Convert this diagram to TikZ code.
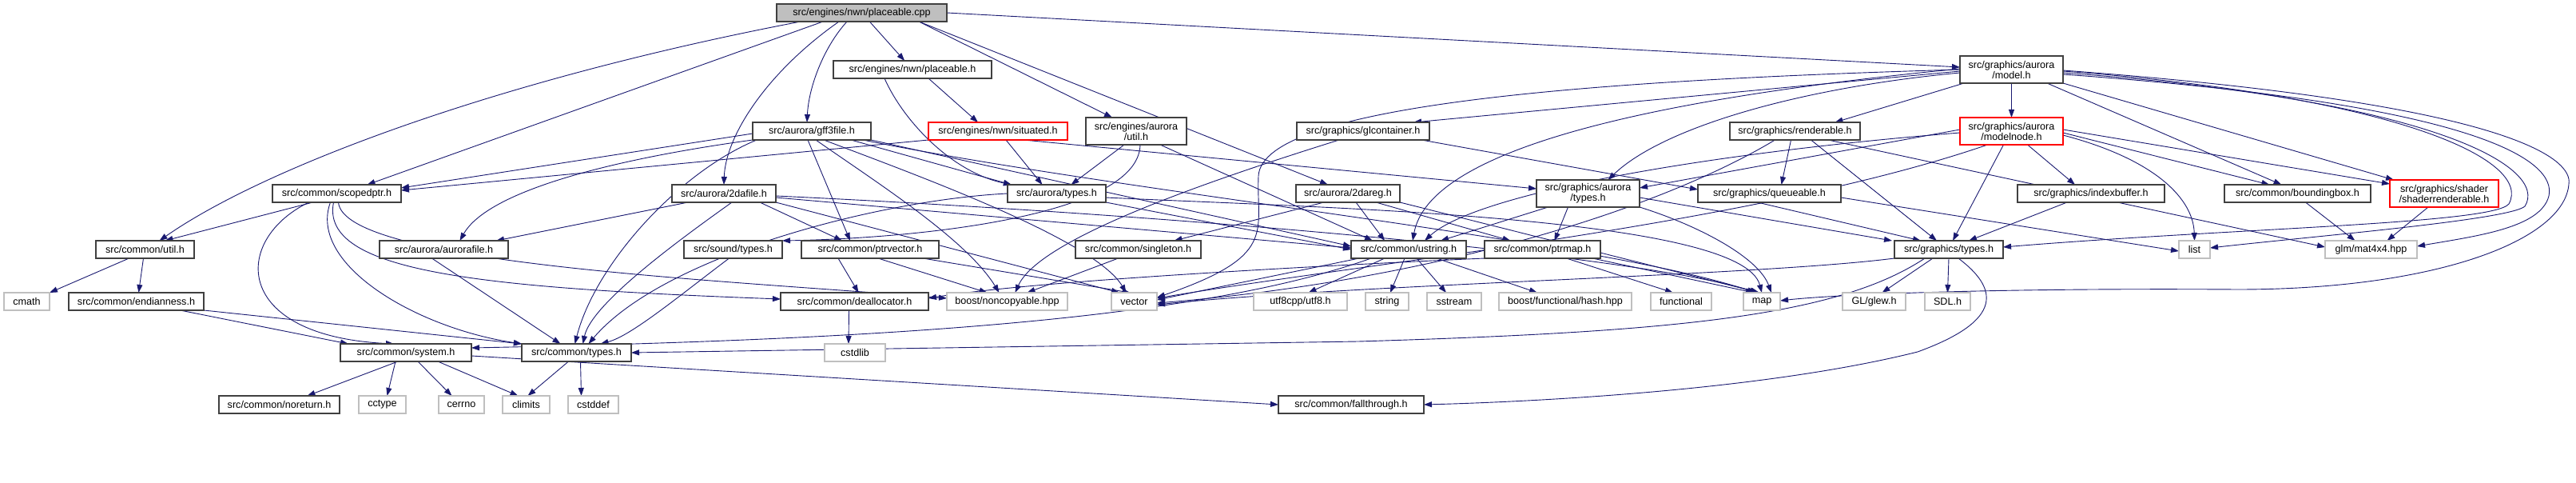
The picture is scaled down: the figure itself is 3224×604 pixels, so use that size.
\documentclass[tikz,border=0pt]{standalone}
\usepackage{fontspec}
\setmainfont{Liberation Sans}
\usetikzlibrary{arrows.meta}
\definecolor{edgec}{HTML}{191970}
\definecolor{graybd}{HTML}{BFBFBF}
\pgfdeclarelayer{bg}
\pgfsetlayers{bg,main}
\begin{document}
\begin{tikzpicture}[x=1pt,y=-1pt,
  every node/.style={font=\fontsize{12.6}{13}\selectfont, inner sep=0pt, outer sep=0pt, align=center},
  hbox/.style={draw=black!75, line width=1.4pt, fill=white, minimum height=22pt},
  sbox/.style={draw=graybd, line width=1.2pt, fill=white, minimum height=22pt},
  rbox/.style={draw=red, line width=1.2pt, fill=white, minimum height=22pt},
  tall/.style={minimum height=34pt},
  dep/.style={draw=edgec, line width=0.9pt, -{Triangle[length=10pt,width=7pt]}},
]
\useasboundingbox (0,0) rectangle (3224,604);
% row 0/1
\node[hbox, fill=black!25, minimum width=213pt] (PC) at (1078.5,16) {src/engines/nwn/placeable.cpp};
\node[hbox, minimum width=198pt] (PH) at (1142,87) {src/engines/nwn/placeable.h};
\node[hbox, tall, minimum width=129pt] (MOD) at (2517.5,87) {src/graphics/aurora\\/model.h};
% row 2
\node[hbox, minimum width=148pt] (GFF) at (1016,164) {src/aurora/gff3file.h};
\node[rbox, minimum width=174pt] (SIT) at (1249,164) {src/engines/nwn/situated.h};
\node[hbox, tall, minimum width=126pt] (EAU) at (1422,164) {src/engines/aurora\\/util.h};
\node[hbox, minimum width=166pt] (GLC) at (1706,164) {src/graphics/glcontainer.h};
\node[hbox, minimum width=163pt] (REN) at (2246.5,164) {src/graphics/renderable.h};
\node[rbox, tall, minimum width=129pt] (MN) at (2517.5,164) {src/graphics/aurora\\/modelnode.h};
% row 3
\node[hbox, minimum width=161pt] (SP) at (421.5,242) {src/common/scopedptr.h};
\node[hbox, minimum width=130pt] (TDA) at (906,242) {src/aurora/2dafile.h};
\node[hbox, minimum width=123pt] (AT) at (1322.5,242) {src/aurora/types.h};
\node[hbox, minimum width=130pt] (TDR) at (1687,242) {src/aurora/2dareg.h};
\node[hbox, tall, minimum width=129pt] (GAT) at (1987.5,242) {src/graphics/aurora\\/types.h};
\node[hbox, minimum width=179pt] (QUE) at (2214.5,242) {src/graphics/queueable.h};
\node[hbox, minimum width=184pt] (IB) at (2617,242) {src/graphics/indexbuffer.h};
\node[hbox, minimum width=183pt] (BB) at (2875.5,242) {src/common/boundingbox.h};
\node[rbox, tall, minimum width=136pt] (SR) at (3059,242) {src/graphics/shader\\/shaderrenderable.h};
% row 4
\node[hbox, minimum width=123pt] (CU) at (181.5,312) {src/common/util.h};
\node[hbox, minimum width=161pt] (AF) at (555.5,312) {src/aurora/aurorafile.h};
\node[hbox, minimum width=123pt] (ST) at (917.5,312) {src/sound/types.h};
\node[hbox, minimum width=172pt] (PV) at (1089,312) {src/common/ptrvector.h};
\node[hbox, minimum width=157pt] (SGL) at (1424.5,312) {src/common/singleton.h};
\node[hbox, minimum width=144pt] (US) at (1763,312) {src/common/ustring.h};
\node[hbox, minimum width=145pt] (PM) at (1930.5,312) {src/common/ptrmap.h};
\node[hbox, minimum width=136pt] (GT) at (2439,312) {src/graphics/types.h};
\node[sbox, minimum width=39pt] (LIST) at (2746.5,312) {list};
\node[sbox, minimum width=115pt] (GLM) at (2967.5,312) {glm/mat4x4.hpp};
% row 5
\node[sbox, minimum width=57pt] (CMATH) at (33.5,377) {cmath};
\node[hbox, minimum width=169pt] (END) at (170.5,377) {src/common/endianness.h};
\node[hbox, minimum width=185pt] (DEAL) at (1069.5,377) {src/common/deallocator.h};
\node[sbox, minimum width=151pt] (NC) at (1260.5,377) {boost/noncopyable.hpp};
\node[sbox, minimum width=57pt] (VEC) at (1419.5,377) {vector};
\node[sbox, minimum width=117pt] (UTF) at (1627.5,377) {utf8cpp/utf8.h};
\node[sbox, minimum width=54pt] (STR) at (1736,377) {string};
\node[sbox, minimum width=68pt] (SS) at (1820,377) {sstream};
\node[sbox, minimum width=166pt] (HASH) at (1959,377) {boost/functional/hash.hpp};
\node[sbox, minimum width=76pt] (FUNC) at (2104,377) {functional};
\node[sbox, minimum width=46pt] (MAP) at (2205,377) {map};
\node[sbox, minimum width=79pt] (GLEW) at (2345.5,377) {GL/glew.h};
\node[sbox, minimum width=57pt] (SDL) at (2437.5,377) {SDL.h};
% row 6
\node[hbox, minimum width=164pt] (SYS) at (508,441) {src/common/system.h};
\node[hbox, minimum width=137pt] (TY) at (721.5,441) {src/common/types.h};
\node[sbox, minimum width=76pt] (CSTDLIB) at (1070,441) {cstdlib};
% row 7
\node[hbox, minimum width=151pt] (NR) at (349.5,506) {src/common/noreturn.h};
\node[sbox, minimum width=59pt] (CCTYPE) at (478.5,506) {cctype};
\node[sbox, minimum width=57pt] (CERRNO) at (577.5,506) {cerrno};
\node[sbox, minimum width=59pt] (CLIMITS) at (658.5,506) {climits};
\node[sbox, minimum width=63pt] (CSTDDEF) at (742.5,506) {cstddef};
\node[hbox, minimum width=182pt] (FT) at (1691,506) {src/common/fallthrough.h};

\begin{pgfonlayer}{bg}
% placeable.cpp
\draw[dep] (PC) -- (PH);
\draw[dep] ([xshift=30pt]PC.south west) .. controls (620,100) and (330,210) .. ([xshift=18pt]CU.north);
\draw[dep] ([xshift=58pt]PC.south west) -- ([xshift=38pt]SP.north);
\draw[dep] ([xshift=78pt]PC.south west) .. controls (960,90) and (908,170) .. (TDA.north);
\draw[dep] ([xshift=88pt]PC.south west) .. controls (1030,60) and (1012,110) .. ([xshift=-6pt]GFF.north);
\draw[dep] ([xshift=-35pt]PC.south east) -- ([xshift=-30pt]EAU.north);
\draw[dep] ([xshift=-35pt]PC.south east) -- ([xshift=-25pt]TDR.north);
\draw[dep] (PC.east) -- ([yshift=3pt]MOD.west);
% placeable.h
\draw[dep] ([xshift=20pt]PH.south) -- ([xshift=-25pt]SIT.north);
\draw[dep] ([xshift=-35pt]PH.south) .. controls (1130,150) and (1190,215) .. ([xshift=5pt]AT.north west);
% situated.h
\draw[dep] ([xshift=10pt]SIT.south) -- ([xshift=-18pt]AT.north);
\draw[dep] (SIT.south west) -- ([yshift=4pt]SP.east);
\draw[dep] ([xshift=-55pt]SIT.south east) -- ([yshift=6pt]GAT.west);
% engines/aurora/util.h
\draw[dep] ([xshift=-15pt]EAU.south) -- ([xshift=18pt]AT.north);
\draw[dep] ([xshift=30pt]EAU.south) -- ([xshift=-45pt]US.north);
\draw[dep] ([xshift=5pt]EAU.south) .. controls (1425,270) and (1150,298) .. (ST.north east);
% gff3file.h
\draw[dep] ([yshift=-3pt]GFF.west) -- ([yshift=7pt]SP.east);
\draw[dep] (GFF.south west) .. controls (760,200) and (610,240) .. ([xshift=20pt]AF.north);
\draw[dep] ([xshift=5pt]GFF.south west) .. controls (850,215) and (745,330) .. ([xshift=-2pt]TY.north);
\draw[dep] ([xshift=-5pt]GFF.south) -- ([xshift=-25pt]PV.north);
\draw[dep] ([xshift=-25pt]GFF.south east) -- ([xshift=5pt]AT.north west);
\draw[dep] (GFF.south east) -- ([yshift=4pt]US.west);
\draw[dep] ([xshift=5pt]GFF.south) .. controls (1100,230) and (1210,300) .. ([xshift=-10pt]NC.north);
\draw[dep] ([xshift=15pt]GFF.south) .. controls (1150,220) and (1370,300) .. ([xshift=-10pt]VEC.north);
\draw[dep] ([xshift=-10pt]GFF.south east) .. controls (1400,240) and (2000,300) .. ([xshift=-8pt]MAP.north);
% 2dafile.h
\draw[dep] ([xshift=20pt]TDA.south west) -- ([xshift=-15pt]AF.north east);
\draw[dep] ([xshift=10pt]TDA.south) .. controls (850,300) and (740,380) .. ([xshift=8pt]TY.north);
\draw[dep] ([xshift=-20pt]TDA.south east) -- ([xshift=-35pt]PV.north);
\draw[dep] ([yshift=-5pt]TDA.east) -- ([yshift=2pt]US.west);
\draw[dep] (TDA.south east) -- ([xshift=10pt]VEC.north west);
\draw[dep] ([yshift=-3pt]TDA.east) .. controls (1500,270) and (2050,320) .. ([xshift=-5pt]MAP.north);
% 2dareg.h
\draw[dep] ([xshift=10pt]TDR.south) -- ([xshift=-30pt]US.north);
\draw[dep] ([xshift=35pt]TDR.south) -- ([xshift=-40pt]PM.north);
\draw[dep] ([xshift=-30pt]TDR.south) -- ([xshift=45pt]SGL.north);
\draw[dep] (TDR.south east) -- ([xshift=-3pt]MAP.north);
% aurora/types.h
\draw[dep] (AT.west) .. controls (1100,250) and (830,320) .. ([xshift=15pt]TY.north);
\draw[dep] (AT.south east) -- (US.west);
\draw[dep] ([yshift=-5pt]AT.east) .. controls (1650,260) and (2180,270) .. (MAP.north);
% ptrvector, singleton, sound types, aurorafile
\draw[dep] ([xshift=-40pt]PV.south) -- ([xshift=5pt]DEAL.north);
\draw[dep] ([xshift=10pt]PV.south) -- ([xshift=-25pt]NC.north);
\draw[dep] ([xshift=-20pt]PV.south east) -- ([xshift=-5pt]VEC.north);
\draw[dep] ([xshift=-25pt]SGL.south) -- ([xshift=25pt]NC.north);
\draw[dep] ([xshift=-5pt]ST.south) .. controls (850,370) and (790,420) .. ([xshift=30pt]TY.north);
\draw[dep] ([xshift=-15pt]AF.south) -- ([xshift=-20pt]TY.north);
% scopedptr.h
\draw[dep] ([xshift=-30pt]SP.south) -- ([xshift=25pt]CU.north);
\draw[dep] ([xshift=-35pt]SP.south) .. controls (290,300) and (290,420) .. ([xshift=-15pt]SYS.north);
\draw[dep] ([xshift=-8pt]SP.south) .. controls (385,330) and (520,410) .. (TY.north west);
\draw[dep] ([xshift=-4pt]SP.south) .. controls (400,340) and (600,360) .. ([yshift=3pt]DEAL.west);
\draw[dep] ([xshift=2pt]SP.south) .. controls (430,330) and (900,350) .. ([yshift=4pt]NC.west);
% util.h, endianness.h
\draw[dep] ([xshift=-20pt]CU.south) -- (CMATH.north east);
\draw[dep] ([xshift=-2pt]CU.south) -- ([xshift=3pt]END.north);
\draw[dep] ([xshift=55pt]END.south) -- ([xshift=10pt]SYS.north west);
\draw[dep] (END.south east) -- (TY.north west);
% system.h, types.h, deallocator.h
\draw[dep] ([xshift=-10pt]SYS.south) -- ([xshift=35pt]NR.north);
\draw[dep] ([xshift=-13pt]SYS.south) -- ([xshift=6pt]CCTYPE.north);
\draw[dep] ([xshift=15pt]SYS.south) -- ([xshift=-12pt]CERRNO.north);
\draw[dep] ([xshift=40pt]SYS.south) -- ([xshift=-10pt]CLIMITS.north);
\draw[dep] ([yshift=-4pt]SYS.east) -- (FT.west);
\draw[dep] ([xshift=-10pt]TY.south) -- ([xshift=2pt]CLIMITS.north);
\draw[dep] ([xshift=5pt]TY.south) -- ([xshift=-15pt]CSTDDEF.north);
\draw[dep] ([xshift=-7pt]DEAL.south) -- ([xshift=-8pt]CSTDLIB.north);
% ustring.h
\draw[dep] ([xshift=-30pt]US.south) -- ([xshift=10pt]UTF.north);
\draw[dep] ([xshift=-5pt]US.south) -- ([xshift=4pt]STR.north);
\draw[dep] ([xshift=10pt]US.south) -- ([xshift=-10pt]SS.north);
\draw[dep] ([xshift=35pt]US.south) -- ([xshift=-35pt]HASH.north);
\draw[dep] ([xshift=10pt]US.south west) -- ([yshift=2pt]VEC.east);
\draw[dep] ([xshift=25pt]US.south west) .. controls (1500,400) and (1100,425) .. ([yshift=6pt]SYS.east);
% ptrmap.h
\draw[dep] ([xshift=30pt]PM.south) -- ([xshift=-10pt]FUNC.north);
\draw[dep] ([xshift=-10pt]PM.south east) -- ([xshift=-10pt]MAP.north);
\draw[dep] (PM.south west) .. controls (1700,330) and (1300,350) .. ([yshift=4pt]DEAL.east);
% graphics/types.h
\draw[dep] ([xshift=-20pt]GT.south) -- ([xshift=10pt]GLEW.north);
\draw[dep] (GT.south) -- (SDL.north);
\draw[dep] (GT.south west) .. controls (2200,345) and (1700,355) .. ([yshift=-4pt]VEC.east);
\draw[dep] ([xshift=-30pt]GT.south) .. controls (2300,395) and (2100,415) .. (1700,427) -- (TY.east);
\draw[dep] ([xshift=12pt]GT.south) .. controls (2500,360) and (2510,400) .. (2400,440) .. controls (2200,490) and (1900,503) .. (FT.east);
% graphics/aurora/types.h
\draw[dep] ([xshift=-50pt]GAT.south) -- ([xshift=40pt]US.north);
\draw[dep] ([xshift=-25pt]GAT.south) -- ([xshift=15pt]PM.north);
\draw[dep] ([yshift=-5pt]GAT.east) -- ([xshift=-3pt]GT.north west);
\draw[dep] (GAT.south east) .. controls (2120,280) and (2200,320) .. ([xshift=12pt]MAP.north);
% queueable.h, renderable.h
\draw[dep] ([xshift=-15pt]QUE.south) -- ([xshift=-35pt]GT.north);
\draw[dep] ([yshift=-5pt]QUE.east) -- ([yshift=-2pt]LIST.west);
\draw[dep] ([xshift=-5pt]REN.south) -- ([xshift=15pt]QUE.north);
\draw[dep] ([xshift=20pt]REN.south) -- ([xshift=-15pt]GT.north);
\draw[dep] ([xshift=-40pt]REN.south east) -- ([yshift=3pt]GLM.west);
\draw[dep] ([xshift=-25pt]REN.south) .. controls (2080,260) and (1800,350) .. ([yshift=-2pt]VEC.east);
% modelnode.h
\draw[dep] ([xshift=-10pt]MN.south) -- ([xshift=5pt]GT.north);
\draw[dep] ([xshift=20pt]MN.south) -- ([xshift=-20pt]IB.north);
\draw[dep] ([yshift=2pt]MN.west) -- ([yshift=7pt]GAT.east);
\draw[dep] ([yshift=-2pt]MN.west) .. controls (2150,190) and (1850,240) .. ([xshift=20pt]US.north);
\draw[dep] ([xshift=-30pt]MN.south) .. controls (2200,280) and (1700,330) .. ([yshift=4pt]VEC.east);
\draw[dep] ([yshift=-5pt]MN.east) .. controls (2700,200) and (2745,250) .. (LIST.north);
\draw[dep] ([yshift=2pt]MN.east) -- ([yshift=-5pt]SR.north west);
\draw[dep] ([yshift=-2pt]MN.east) -- ([xshift=-35pt]BB.north);
% model.h
\draw[dep] ([yshift=-2pt]MOD.west) -- ([xshift=-20pt]GLC.north east);
\draw[dep] ([xshift=5pt]MOD.south west) -- ([xshift=50pt]REN.north);
\draw[dep] (MOD) -- (MN);
\draw[dep] ([yshift=-4pt]MOD.west) .. controls (2250,110) and (2080,160) .. ([xshift=25pt]GAT.north);
\draw[dep] ([yshift=1pt]MOD.west) .. controls (2100,120) and (1790,180) .. ([xshift=5pt]US.north);
\draw[dep] (MOD.west) .. controls (2000,100) and (1580,130) .. (1575,220) .. controls (1572,290) and (1600,320) .. ([yshift=5pt]VEC.east);
\draw[dep] ([xshift=-20pt]MOD.south east) -- ([xshift=-20pt]BB.north);
\draw[dep] (MOD.south east) -- ([xshift=5pt]SR.north west);
\draw[dep] ([yshift=-2pt]MOD.east) .. controls (3000,120) and (3170,200) .. (3140,255) .. controls (3120,280) and (2800,285) .. ([yshift=3pt]GT.east);
\draw[dep] ([yshift=-4pt]MOD.east) .. controls (3050,125) and (3190,210) .. (3160,258) .. controls (3140,275) and (2900,295) .. ([yshift=2pt]LIST.east);
\draw[dep] ([yshift=-6pt]MOD.east) .. controls (3100,130) and (3200,200) .. (3190,245) .. controls (3180,285) and (3100,295) .. ([yshift=4pt]GLM.east);
\draw[dep] ([yshift=-1pt]MOD.east) .. controls (3150,130) and (3220,200) .. (3215,230) .. controls (3210,300) and (3050,362) .. (2800,362) .. controls (2500,360) and (2300,368) .. ([yshift=1pt]MAP.east);
% leaves
\draw[dep] ([xshift=10pt]BB.south) -- ([xshift=-20pt]GLM.north);
\draw[dep] ([xshift=-20pt]SR.south) -- ([xshift=20pt]GLM.north);
\draw[dep] ([xshift=-30pt]IB.south) -- ([xshift=25pt]GT.north);
\draw[dep] ([xshift=-30pt]GLC.south) .. controls (1500,230) and (1300,300) .. ([xshift=10pt]NC.north);
\draw[dep] ([xshift=-10pt]GLC.south east) -- ([yshift=5pt]QUE.west);
\end{pgfonlayer}
\end{tikzpicture}
\end{document}
